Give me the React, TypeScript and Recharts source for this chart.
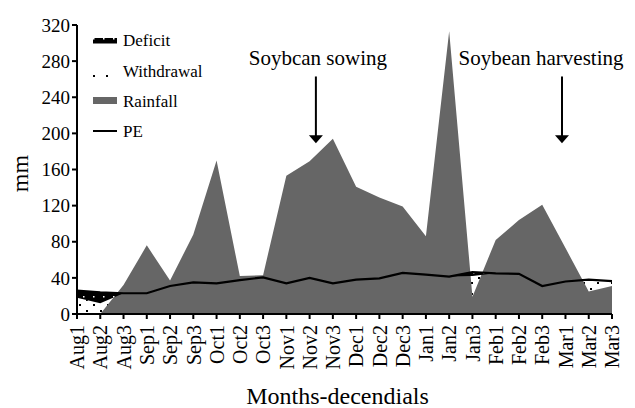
import React from 'react';
import { Area, ComposedChart, Label, Line, ReferenceLine, XAxis, YAxis } from 'recharts';

const decendials = [
  'Aug1', 'Aug2', 'Aug3', 'Sep1', 'Sep2', 'Sep3', 'Oct1', 'Oct2', 'Oct3', 'Nov1', 'Nov2', 'Nov3',
  'Dec1', 'Dec2', 'Dec3', 'Jan1', 'Jan2', 'Jan3', 'Feb1', 'Feb2', 'Feb3', 'Mar1', 'Mar2', 'Mar3',
];
const rainfall = [0, 0, 32, 76, 37, 88, 170, 42, 43, 153, 169, 194, 141, 129, 119, 86, 313, 19, 82, 104, 121, 73, 25, 31];
const pe = [26, 24, 23, 23, 31, 35, 34, 37.5, 40.5, 34, 40, 34, 38, 39.5, 45.5, 43.5, 41.5, 46.5, 45, 44.5, 31, 36, 38, 36.5];
// lower edge of the deficit band (what was actually evaporated)
const aet = [18, 12, 23, 23, 31, 35, 34, 37.5, 40.5, 34, 40, 34, 38, 39.5, 45.5, 43.5, 41.5, 42, 45, 44.5, 31, 36, 38, 36.5];
const yTicks = [0, 40, 80, 120, 160, 200, 240, 280, 320];

const events = [
  { label: 'Soybcan sowing', at: 10.27, top: 263, tip: 189, shift: 2 },
  { label: 'Soybean harvesting', at: 20.85, top: 263, tip: 189, shift: -21 },
];

const rows = decendials.map((d, i) => ({
  i,
  d,
  rain: rainfall[i],
  pe: pe[i],
  aet: aet[i],
  deficit: [aet[i], pe[i]],
}));

const serif = '"Liberation Serif", "Times New Roman", serif';
const GRAY = '#666666';

function XTick(props: any) {
  const { x, y, payload } = props;
  return (
    <g transform={`translate(${x},${y})`}>
      <text transform="rotate(-90)" textAnchor="end" dy="0.36em" fontSize={20} fontFamily={serif} fill="#000">
        {decendials[payload.value]}
      </text>
    </g>
  );
}

function arrowShape(label: string, shift: number) {
  return (p: any) => {
    const x = p.x1;
    const top = Math.min(p.y1, p.y2);
    const tip = Math.max(p.y1, p.y2);
    return (
      <g>
        <text x={x + shift} y={top - 11} textAnchor="middle" fontSize={21} fontFamily={serif} fill="#000">
          {label}
        </text>
        <line x1={x} y1={top} x2={x} y2={tip - 6} stroke="#000" strokeWidth={2} />
        <polygon points={`${x - 7},${tip - 8} ${x + 7},${tip - 8} ${x},${tip}`} fill="#000" />
      </g>
    );
  };
}

function LegendBox() {
  const t = { fontSize: 17, fontFamily: serif, fill: '#000' };
  return (
    <svg width={635} height={408} style={{ position: 'absolute', left: 0, top: 0, pointerEvents: 'none' }}>
      <rect x={93} y={38} width={24} height={5.5} fill="url(#deficitPat)" />
      <text x={123} y={46} {...t}>Deficit</text>
      <rect x={93} y={75} width={2} height={2} fill="#000" />
      <rect x={106} y={75} width={2} height={2} fill="#000" />
      <text x={123} y={77} {...t}>Withdrawal</text>
      <rect x={93} y={97} width={24} height={7} fill={GRAY} />
      <text x={123} y={107} {...t}>Rainfall</text>
      <line x1={93} y1={131} x2={117} y2={131} stroke="#000" strokeWidth={2} />
      <text x={123} y={137} {...t}>PE</text>
    </svg>
  );
}

export default function App() {
  return (
    <div style={{ position: 'relative', width: 635, height: 408, background: '#fff' }}>
      <style>{'body{margin:0;background:#fff}'}</style>
      <ComposedChart width={635} height={408} data={rows} margin={{ top: 25, right: 23, left: 0, bottom: 0 }}>
        <defs>
          <pattern id="withdrawalPat" width="14" height="11" patternUnits="userSpaceOnUse">
            <rect width="14" height="11" fill="#fff" />
            <rect x="2" y="2" width="2" height="2" fill="#000" />
            <rect x="9" y="7" width="2" height="2" fill="#000" />
          </pattern>
          <pattern id="deficitPat" width="10" height="6" patternUnits="userSpaceOnUse">
            <rect width="10" height="6" fill="#000" />
            <rect x="3" y="2" width="1.5" height="1.5" fill="#fff" />
          </pattern>
        </defs>
        <XAxis
          type="number"
          dataKey="i"
          domain={[0, 23]}
          ticks={decendials.map((_, i) => i)}
          interval={0}
          tick={<XTick />}
          height={94}
          tickSize={5}
          tickMargin={6}
          axisLine={{ stroke: '#000', strokeWidth: 2 }}
          tickLine={{ stroke: '#000', strokeWidth: 2 }}
        >
          <Label
            content={(lp: any) => {
              const vb = lp.viewBox;
              return (
                <text x={vb.x + vb.width / 2 - 7} y={vb.y + vb.height - 4} textAnchor="middle" fontSize={24} fontFamily={serif} fill="#000">
                  Months-decendials
                </text>
              );
            }}
          />
        </XAxis>
        <YAxis
          domain={[0, 320]}
          ticks={yTicks}
          width={77}
          tickSize={5}
          tickMargin={2}
          tick={{ fontSize: 19, fontFamily: serif, fill: '#000' }}
          axisLine={{ stroke: '#000', strokeWidth: 2 }}
          tickLine={{ stroke: '#000', strokeWidth: 2 }}
        >
          <Label
            content={(lp: any) => {
              const vb = lp.viewBox;
              const cy = vb.y + vb.height / 2 + 4;
              return (
                <text x={28} y={cy} transform={`rotate(-90 28 ${cy})`} textAnchor="middle" fontSize={24} fontFamily={serif} fill="#000">
                  mm
                </text>
              );
            }}
          />
        </YAxis>
        <Area type="linear" dataKey="aet" fill="url(#withdrawalPat)" fillOpacity={1} stroke="none" isAnimationActive={false} />
        <Area type="linear" dataKey="rain" fill={GRAY} fillOpacity={1} stroke="none" isAnimationActive={false} />
        <Area type="linear" dataKey="deficit" fill="url(#deficitPat)" fillOpacity={1} stroke="none" isAnimationActive={false} />
        <Line type="linear" dataKey="pe" stroke="#000" strokeWidth={2.2} dot={false} isAnimationActive={false} />
        {events.map((e) => (
          <ReferenceLine
            key={e.label}
            segment={[
              { x: e.at, y: e.top },
              { x: e.at, y: e.tip },
            ]}
            shape={arrowShape(e.label, e.shift)}
          />
        ))}
      </ComposedChart>
      <LegendBox />
    </div>
  );
}
